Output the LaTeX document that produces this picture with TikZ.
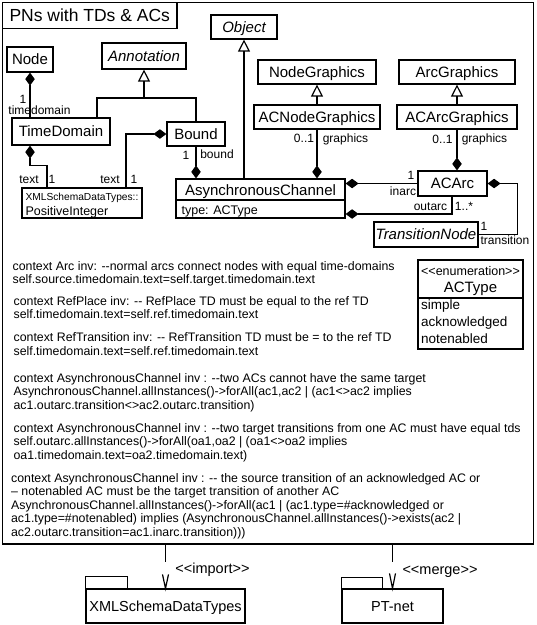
\documentclass[tikz,border=0pt]{standalone}
\usepackage{fontspec}
\setmainfont{Liberation Sans}
\usetikzlibrary{arrows.meta,calc}
\newcommand\myfs[1]{\fontsize{#1}{#1}\selectfont}
\newcommand\mylt{\textless\kern0pt}
\newcommand\mygt{\textgreater\kern0pt}
\begin{document}
\begin{tikzpicture}[x=1pt,y=-1pt,line width=1.2pt,
  cls/.style={draw,line width=1.2pt,inner sep=0pt,font=\myfs{15},text height=10.8pt,text depth=0pt},
  icls/.style={cls,font=\myfs{15}\itshape},
  lbl/.style={inner sep=0pt,font=\myfs{12},text height=8.6pt,text depth=0pt},
  ocl/.style={inner sep=0pt,font=\fontsize{12.35}{13.5}\selectfont,align=left,anchor=north west},
  comp/.style={-{Diamond[length=13pt,width=9.5pt]}},
  inh/.style={-{Triangle[open,length=12pt,width=12pt]}},
  pkg/.style={draw,line width=1.2pt,inner sep=0pt,font=\myfs{14.5},text height=10.4pt,text depth=0pt}
]
\fill[white] (0,0) rectangle (537,625);
\useasboundingbox (0,0) rectangle (537,625);

% package frame
\node[draw,line width=1.2pt,minimum width=531pt,minimum height=541.5pt,inner sep=0pt] (frame) at (268,273.25) {};
\node[draw,line width=1.2pt,minimum width=174.5pt,minimum height=26pt,inner sep=0pt,font=\myfs{17.5},text height=12.6pt,text depth=0pt] (title) at (89.75,15.5) {PNs with TDs \& ACs};

% classes
\node[icls,minimum width=66pt,minimum height=24pt] (obj) at (244,27) {Object};
\node[cls,minimum width=46pt,minimum height=25pt] (node) at (30,59.5) {Node};
\node[icls,minimum width=84pt,minimum height=26pt] (ann) at (144,56) {Annotation};
\node[cls,minimum width=118pt,minimum height=24pt] (ng) at (317,72) {NodeGraphics};
\node[cls,minimum width=116pt,minimum height=24pt] (ag) at (457,72) {ArcGraphics};
\node[cls,minimum width=126pt,minimum height=24pt] (acng) at (317,117) {ACNodeGraphics};
\node[cls,minimum width=120pt,minimum height=24pt] (acag) at (457,117) {ACArcGraphics};
\node[cls,minimum width=98pt,minimum height=27pt] (td) at (61,131.5) {TimeDomain};
\node[cls,minimum width=58pt,minimum height=24pt] (bound) at (196,134) {Bound};
\node[cls,minimum width=120pt,minimum height=30pt] (xml) at (82,203) {};
\node[lbl,anchor=west,font=\myfs{10.2},text height=7.3pt] (xmla) at (25,197) {XMLSchemaDataTypes::};
\node[lbl,anchor=west,font=\myfs{12.5},text height=9pt] (xmlb) at (25,210.5) {PositiveInteger};
\node[cls,minimum width=169pt,minimum height=39pt] (ac) at (260.5,198.5) {};
\draw (ac.west |- 0,200) -- (ac.east |- 0,200);
\node[lbl,font=\myfs{15},text height=10.8pt] (acn) at (260.5,190) {AsynchronousChannel};
\node[lbl,anchor=west,font=\myfs{12.5},text height=9pt] (act) at (181,209.5) {type: ACType};
\node[cls,minimum width=69pt,minimum height=25pt] (acarc) at (452.5,183.5) {ACArc};
\node[icls,minimum width=104pt,minimum height=25pt] (tn) at (426,234.5) {TransitionNode};

% enumeration
\node[cls,minimum width=105pt,minimum height=89pt] (enum) at (470.5,304.5) {};
\draw (enum.west |- 0,298) -- (enum.east |- 0,298);
\node[lbl,font=\myfs{12.5},text height=9pt] (enst) at (470.5,271) {\mylt\mylt enumeration\mygt\mygt};
\node[lbl,font=\myfs{15},text height=10.8pt] (enn) at (470.5,287) {ACType};
\node[lbl,anchor=west,font=\myfs{13.5},text height=9.7pt] (e1) at (420.5,304.5) {simple};
\node[lbl,anchor=west,font=\myfs{13.5},text height=9.7pt] (e2) at (420.5,321.5) {acknowledged};
\node[lbl,anchor=west,font=\myfs{13.5},text height=9.7pt] (e3) at (420.5,339) {notenabled};

% connectors
\draw[inh] (ac.north -| obj.south) -- (obj.south);
\coordinate (annbar) at (144,98);
\draw ($(td.north)+(36,0)$) |- (annbar) -| (bound.north);
\draw[inh] (annbar) -- (ann.south);
\draw[comp] (td.north -| node.south) -- (node.south);
\draw[comp] ($(xml.north)+(-35,0)$) -- ++(0,-22) -| (td.south -| node.south);
\draw[comp] ($(xml.north)+(44,0)$) |- (bound.west);
\draw[comp] (bound.south) -- (bound.south |- ac.north);
\draw[comp] (acng.south) -- (acng.south |- ac.north);
\draw[inh] (acng.north) -- (ng.south);
\draw[inh] (acag.north) -- (ag.south);
\draw[comp] (acag.south) -- (acag.south |- acarc.north);
\draw[comp] (acarc.west) -- (acarc.west -| ac.east);
\draw[comp] ($(acarc.south)+(-0.5,0)$) |- ($(ac.east)+(0,15.5)$);
\draw[comp] (tn.east) -| ($(acarc.east)+(30,0)$) -- (acarc.east);

% labels
\node[lbl] (l1) at (23,99) {1};
\node[lbl] (l2) at (39.5,110) {timedomain};
\node[lbl] (l3) at (29,179) {text};
\node[lbl] (l4) at (52,179) {1};
\node[lbl] (l5) at (110,179) {text};
\node[lbl] (l6) at (134,179) {1};
\node[lbl] (l7) at (186,155) {1};
\node[lbl] (l8) at (217,154) {bound};
\node[lbl] (l9) at (304,138) {0..1};
\node[lbl] (l10) at (345.5,138) {graphics};
\node[lbl] (l11) at (442.5,139) {0..1};
\node[lbl] (l12) at (484.5,138) {graphics};
\node[lbl] (l13) at (411,175.5) {1};
\node[lbl] (l14) at (403,191) {inarc};
\node[lbl] (l15) at (430.5,206) {outarc};
\node[lbl] (l16) at (464,206) {1..*};
\node[lbl] (l17) at (484,226) {1};
\node[lbl] (l18) at (505,240) {transition};

% constraints
\node[ocl] (c1) at (12,260.5) {context Arc inv: -{}-normal arcs connect nodes with equal time-domains\\self.source.timedomain.text=self.target.timedomain.text};
\node[ocl] (c2) at (13,295.5) {context RefPlace inv: -{}- RefPlace TD must be equal to the ref TD\\self.timedomain.text=self.ref.timedomain.text};
\node[ocl] (c3) at (13,332) {context RefTransition inv: -{}- RefTransition TD must be = to the ref TD\\self.timedomain.text=self.ref.timedomain.text};
\node[ocl] (c4) at (13,372.5) {context AsynchronousChannel inv : -{}-two ACs cannot have the same target\\AsynchronousChannel.allInstances()-\mygt forAll(ac1,ac2 \textbar{} (ac1\mylt\mygt ac2 implies\\ac1.outarc.transition\mylt\mygt ac2.outarc.transition)};
\node[ocl] (c5) at (13,422.5) {context AsynchronousChannel inv : -{}-two target transitions from one AC must have equal tds\\self.outarc.allInstances()-\mygt forAll(oa1,oa2 \textbar{} (oa1\mylt\mygt oa2 implies\\oa1.timedomain.text=oa2.timedomain.text)};
\node[ocl] (c6) at (10.5,472.5) {context AsynchronousChannel inv : -{}- the source transition of an acknowledged AC or\\\textendash{} notenabled AC must be the target transition of another AC\\AsynchronousChannel.allInstances()-\mygt forAll(ac1 \textbar{} (ac1.type=\#acknowledged or\\ac1.type=\#notenabled) implies (AsynchronousChannel.allInstances()-\mygt exists(ac2 \textbar\\ac2.outarc.transition=ac1.inarc.transition)))};

% packages
\node[pkg,minimum width=159pt,minimum height=34pt] (pkx) at (165.5,606) {XMLSchemaDataTypes};
\draw (pkx.north west) rectangle ++(42,-12);
\node[pkg,minimum width=101pt,minimum height=34pt] (pkp) at (392.5,606) {PT-net};
\draw (pkp.north west) rectangle ++(41,-11);
\draw (frame.south -| pkx.north) -- ++(0,17);
\draw ($(pkx.north)+(-3,-14)$) -- (pkx.north) -- ($(pkx.north)+(3,-14)$);
\draw (frame.south -| pkp.north) -- ++(0,17);
\draw ($(pkp.north)+(-3,-15)$) -- (pkp.north) -- ($(pkp.north)+(3,-15)$);
\node[lbl,font=\myfs{14.5},text height=10.4pt] (imp) at (212.5,568) {\mylt\mylt import\mygt\mygt};
\node[lbl,font=\myfs{14.5},text height=10.4pt] (mrg) at (440,569) {\mylt\mylt merge\mygt\mygt};
\end{tikzpicture}
\end{document}
